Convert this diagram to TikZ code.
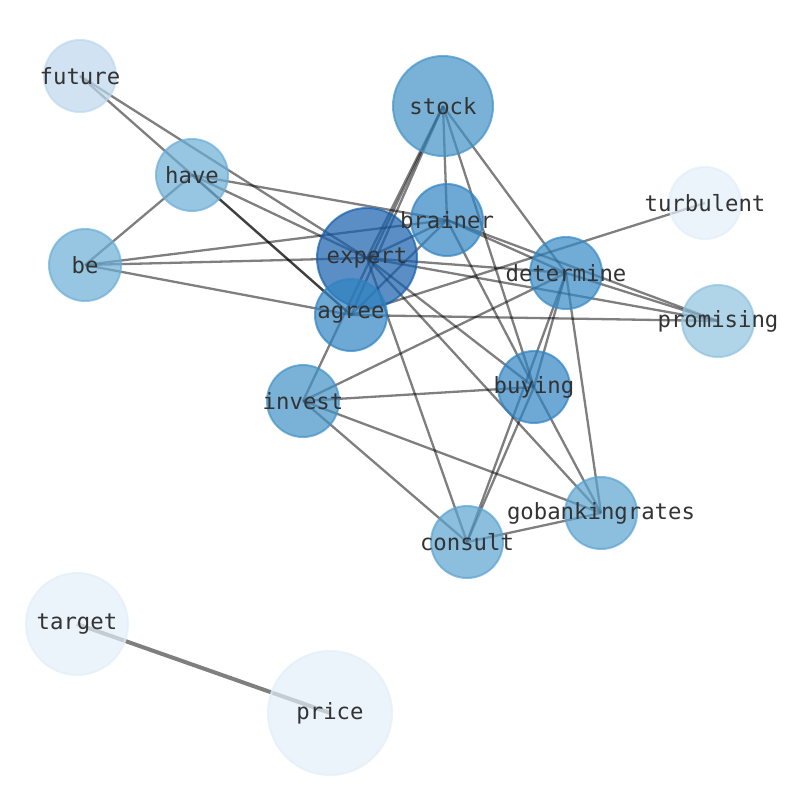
\documentclass[tikz,border=0pt]{standalone}
\usepackage{fontspec}
\newfontfamily\wordfont{DejaVu Sans Mono}

\definecolor{blue_dark}{HTML}{155EAC}
\definecolor{blue_mid}{HTML}{3083C2}
\definecolor{blue_det}{HTML}{3589C6}
\definecolor{blue_stock}{HTML}{4292C6}
\definecolor{blue_soft}{HTML}{5BA3D0}
\definecolor{blue_have}{HTML}{6BAED6}
\definecolor{blue_prom}{HTML}{8FC2DE}
\definecolor{blue_fut}{HTML}{BDD7EC}
\definecolor{blue_pale}{HTML}{E3EEF9}

\pgfdeclarelayer{edges}
\pgfsetlayers{edges,main}

\begin{document}
\begin{tikzpicture}[
    x=1pt, y=-1pt,
    word/.style={circle, inner sep=0pt, minimum size=72pt, line width=2pt,
        fill=#1, draw=#1, fill opacity=0.7, draw opacity=0.7},
    big/.style={minimum size=100pt},
    every label/.style={text=black!80, inner sep=0pt,
        font=\wordfont\fontsize{22.3}{26}\selectfont},
    grey_edge/.style={black, opacity=0.5, line width=2.3pt},
    heavy_edge/.style={black, opacity=0.5, line width=4pt}
]
\useasboundingbox (0,0) rectangle (794,790);

% --- Nodes ---
\node[word=blue_fut, label=center:future] (future) at (80,76) {};
\node[word=blue_stock, big, label=center:stock] (stock) at (443,106) {};
\node[word=blue_have, label=center:have] (have) at (192,175) {};
\node[word=blue_pale, label=center:turbulent] (turbulent) at (705,203) {};
\node[word=blue_have, label=center:be] (be) at (85,265) {};
\node[word=blue_dark, big, label=center:expert] (expert) at (367,258) {};
\node[word=blue_mid, label=center:brainer] (brainer) at (447,220) {};
\node[word=blue_det, label=center:determine] (determine) at (566,273) {};
\node[word=blue_mid, label=center:agree] (agree) at (351,315) {};
\node[word=blue_prom, label=center:promising] (promising) at (718,321) {};
\node[word=blue_stock, label=center:invest] (invest) at (303,401) {};
\node[word=blue_mid, label=center:buying] (buying) at (534,387) {};
\node[word=blue_soft, label=center:gobankingrates] (gobankingrates) at (601,513) {};
\node[word=blue_soft, label=center:consult] (consult) at (467,542) {};
\node[word=blue_pale, minimum size=102pt, label=center:target] (target) at (77,624) {};
\node[word=blue_pale, minimum size=124pt, label=center:price] (price) at (330,713) {};

% --- Edges (under the nodes) ---
\begin{pgfonlayer}{edges}
    % future, have, be
    \draw[grey_edge] (future.center) -- (agree.center);
    \draw[grey_edge] (future.center) -- (expert.center);
    \draw[grey_edge] (have.center) -- (be.center);
    \draw[grey_edge] (have.center) -- (agree.center);
    \draw[grey_edge] (have.center) -- (brainer.center);
    \draw[grey_edge] (have.center) -- (expert.center);
    \draw[grey_edge] (be.center) -- (brainer.center);
    \draw[grey_edge] (be.center) -- (expert.center);
    \draw[grey_edge] (be.center) -- (agree.center);

    % stock
    \draw[grey_edge] (stock.center) -- (expert.center);
    \draw[grey_edge] (stock.center) -- (agree.center);
    \draw[grey_edge] (stock.center) -- (invest.center);
    \draw[grey_edge] (stock.center) -- (brainer.center);
    \draw[grey_edge] (stock.center) -- (buying.center);
    \draw[grey_edge] (stock.center) -- (determine.center);

    % brainer, expert
    \draw[grey_edge] (brainer.center) -- (expert.center);
    \draw[grey_edge] (brainer.center) -- (agree.center);
    \draw[grey_edge] (brainer.center) -- (determine.center);
    \draw[grey_edge] (brainer.center) -- (promising.center);
    \draw[grey_edge] (brainer.center) -- (buying.center);
    \draw[grey_edge] (expert.center) -- (determine.center);
    \draw[grey_edge] (expert.center) -- (promising.center);
    \draw[grey_edge] (expert.center) -- (buying.center);
    \draw[grey_edge] (expert.center) -- (gobankingrates.center);
    \draw[grey_edge] (expert.center) -- (consult.center);

    % agree, invest
    \draw[grey_edge] (agree.center) -- (promising.center);
    \draw[grey_edge] (agree.center) -- (turbulent.center);
    \draw[grey_edge] (invest.center) -- (determine.center);
    \draw[grey_edge] (invest.center) -- (buying.center);
    \draw[grey_edge] (invest.center) -- (gobankingrates.center);
    \draw[grey_edge] (invest.center) -- (consult.center);

    % determine, buying, consult
    \draw[grey_edge] (determine.center) -- (buying.center);
    \draw[grey_edge] (determine.center) -- (consult.center);
    \draw[grey_edge] (determine.center) -- (gobankingrates.center);
    \draw[grey_edge] (determine.center) -- (promising.center);
    \draw[grey_edge] (buying.center) -- (gobankingrates.center);
    \draw[grey_edge] (buying.center) -- (consult.center);
    \draw[grey_edge] (consult.center) -- (gobankingrates.center);

    % target, price
    \draw[heavy_edge] (target.center) -- (price.center);
\end{pgfonlayer}

\end{tikzpicture}
\end{document}
